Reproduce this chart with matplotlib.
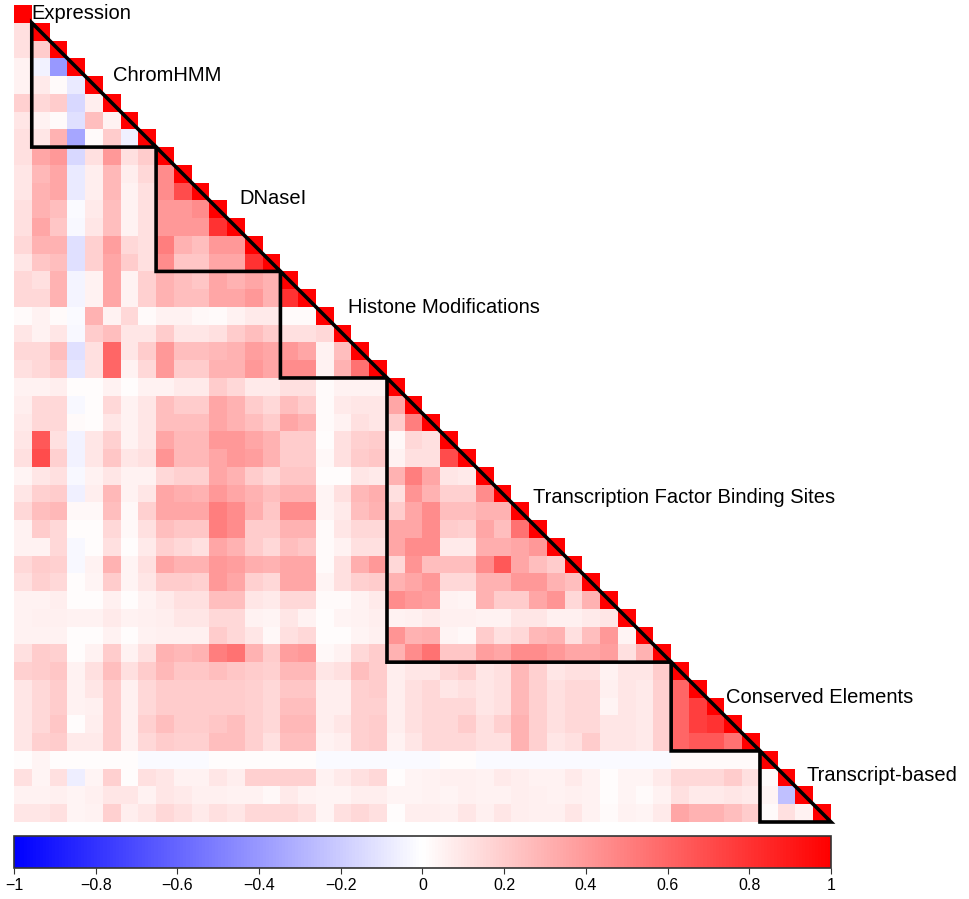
import numpy as np
import matplotlib.pyplot as plt
from matplotlib.colors import LinearSegmentedColormap
from matplotlib.patches import Polygon

plt.rcParams['font.family'] = ['Liberation Sans', 'DejaVu Sans']

groups = ["Expression", "ChromHMM", "DNaseI", "Histone Modifications",
          "Transcription Factor Binding Sites", "Conserved Elements", "Transcript-based"]
group_sizes = [1, 7, 7, 6, 16, 5, 4]

# lower triangle of the correlation matrix, one list per row
rows_expression = [
    [1],
]
rows_chromhmm = [
    [0.12, 1],
    [0.12, 0.2, 1],
    [0.05, -0.05, -0.4, 1],
    [0.05, 0.08, 0.02, -0.08, 1],
    [0.18, 0.15, 0.2, -0.15, 0.07, 1],
    [0.1, 0.05, 0.02, -0.12, 0.25, 0.05, 1],
    [0.12, 0.1, 0.3, -0.35, 0.02, 0.2, -0.06, 1],
]
rows_dnase = [
    [0.12, 0.35, 0.4, -0.15, 0.12, 0.4, 0.12, 0.2, 1],
    [0.1, 0.28, 0.35, -0.08, 0.07, 0.28, 0.07, 0.15, 0.45, 1],
    [0.1, 0.3, 0.35, -0.08, 0.07, 0.28, 0.05, 0.12, 0.45, 0.7, 1],
    [0.12, 0.3, 0.25, -0.02, 0.08, 0.25, 0.05, 0.12, 0.4, 0.4, 0.45, 1],
    [0.12, 0.35, 0.22, -0.03, 0.1, 0.25, 0.05, 0.12, 0.4, 0.4, 0.4, 0.8, 1],
    [0.15, 0.3, 0.3, -0.12, 0.18, 0.38, 0.15, 0.12, 0.5, 0.3, 0.25, 0.4, 0.4, 1],
    [0.1, 0.22, 0.25, -0.12, 0.18, 0.35, 0.2, 0.12, 0.45, 0.22, 0.22, 0.35, 0.35, 0.8, 1],
]
rows_histone = [
    [0.15, 0.12, 0.3, -0.04, 0.05, 0.35, 0.05, 0.18, 0.3, 0.25, 0.22, 0.35, 0.3, 0.35, 0.3, 1],
    [0.15, 0.15, 0.3, -0.04, 0.05, 0.35, 0.05, 0.18, 0.3, 0.25, 0.25, 0.35, 0.35, 0.4, 0.3, 0.8, 1],
    [0.02, 0.05, 0.02, -0.02, 0.3, 0.05, 0.15, 0.02, 0.05, 0.05, 0.03, 0.02, 0.05, 0.08, 0.08, 0.02, 0.02, 1],
    [0.1, 0.05, 0.1, -0.03, 0.2, 0.25, 0.1, 0.1, 0.2, 0.1, 0.1, 0.12, 0.2, 0.25, 0.2, 0.12, 0.12, 0.15, 1],
    [0.15, 0.15, 0.25, -0.12, 0.12, 0.6, 0.1, 0.2, 0.4, 0.25, 0.25, 0.28, 0.3, 0.38, 0.35, 0.4, 0.35, 0.05, 0.25, 1],
    [0.12, 0.15, 0.2, -0.1, 0.12, 0.6, 0.05, 0.15, 0.4, 0.2, 0.2, 0.3, 0.3, 0.4, 0.35, 0.45, 0.45, 0.05, 0.3, 0.55, 1],
]
rows_tfbs = [
    [0.05, 0.05, 0.07, 0.01, 0.01, 0.05, 0.01, 0.05, 0.05, 0.08, 0.08, 0.2,
     0.15, 0.08, 0.08, 0.12, 0.12, 0.02, 0.05, 0.05, 0.05, 1],
    [0.07, 0.15, 0.15, -0.03, 0.01, 0.15, 0.05, 0.1, 0.25, 0.2, 0.2, 0.35,
     0.3, 0.2, 0.15, 0.25, 0.2, 0.02, 0.08, 0.1, 0.1, 0.35, 1],
    [0.08, 0.15, 0.15, 0.02, 0.01, 0.1, 0.05, 0.1, 0.25, 0.25, 0.25, 0.35,
     0.3, 0.25, 0.2, 0.35, 0.3, 0.02, 0.05, 0.12, 0.1, 0.2, 0.5, 1],
    [0.1, 0.65, 0.12, -0.05, 0.1, 0.18, 0.05, 0.1, 0.35, 0.28, 0.28, 0.4,
     0.4, 0.35, 0.3, 0.2, 0.2, 0.01, 0.12, 0.18, 0.2, 0.03, 0.15, 0.12, 1],
    [0.12, 0.7, 0.18, -0.05, 0.1, 0.22, 0.1, 0.12, 0.42, 0.28, 0.28, 0.35,
     0.4, 0.38, 0.3, 0.2, 0.2, 0.03, 0.12, 0.2, 0.22, 0.05, 0.12, 0.12, 0.7, 1],
    [0.04, 0.1, 0.12, -0.03, 0.05, 0.1, 0.05, 0.05, 0.15, 0.18, 0.18, 0.35,
     0.3, 0.2, 0.15, 0.22, 0.22, 0.01, 0.01, 0.1, 0.08, 0.3, 0.5, 0.35,
     0.1, 0.08, 1],
    [0.1, 0.18, 0.2, -0.06, 0.07, 0.28, 0.05, 0.1, 0.35, 0.32, 0.3, 0.4,
     0.35, 0.3, 0.25, 0.3, 0.3, 0.04, 0.12, 0.28, 0.32, 0.12, 0.42, 0.3,
     0.18, 0.18, 0.45, 1],
    [0.15, 0.25, 0.28, 0.03, 0.03, 0.25, 0.03, 0.18, 0.35, 0.35, 0.35, 0.5,
     0.45, 0.32, 0.22, 0.45, 0.45, 0.04, 0.08, 0.25, 0.3, 0.2, 0.35, 0.45,
     0.25, 0.25, 0.3, 0.3, 1],
    [0.05, 0.2, 0.15, 0.01, 0.01, 0.15, 0.03, 0.12, 0.25, 0.22, 0.22, 0.5,
     0.45, 0.2, 0.2, 0.3, 0.3, 0.02, 0.1, 0.15, 0.15, 0.35, 0.35, 0.45,
     0.2, 0.18, 0.35, 0.25, 0.55, 1],
    [0.05, 0.05, 0.15, -0.03, 0.01, 0.12, 0.01, 0.08, 0.18, 0.15, 0.12, 0.35,
     0.3, 0.2, 0.15, 0.25, 0.22, 0.02, 0.05, 0.12, 0.12, 0.35, 0.45, 0.45,
     0.08, 0.08, 0.32, 0.32, 0.35, 0.4, 1],
    [0.15, 0.2, 0.18, -0.03, 0.05, 0.3, 0.04, 0.12, 0.35, 0.3, 0.3, 0.4,
     0.38, 0.32, 0.3, 0.35, 0.35, 0.02, 0.12, 0.32, 0.4, 0.15, 0.42, 0.25,
     0.25, 0.25, 0.45, 0.65, 0.35, 0.25, 0.2, 1],
    [0.12, 0.18, 0.15, 0.01, 0.04, 0.2, 0.04, 0.1, 0.2, 0.2, 0.18, 0.4,
     0.35, 0.18, 0.15, 0.35, 0.35, 0.04, 0.12, 0.18, 0.2, 0.3, 0.35, 0.4,
     0.15, 0.15, 0.3, 0.3, 0.4, 0.4, 0.3, 0.25, 1],
    [0.05, 0.05, 0.07, 0.01, 0.01, 0.06, 0.01, 0.05, 0.08, 0.12, 0.12, 0.25,
     0.25, 0.1, 0.08, 0.15, 0.15, 0.02, 0.02, 0.05, 0.08, 0.45, 0.4, 0.38,
     0.05, 0.04, 0.3, 0.2, 0.2, 0.35, 0.42, 0.15, 0.3, 1],
    [0.05, 0.06, 0.06, 0.05, 0.05, 0.08, 0.05, 0.06, 0.07, 0.1, 0.1, 0.15,
     0.15, 0.05, 0.04, 0.1, 0.05, 0.01, 0.04, 0.05, 0.07, 0.05, 0.06, 0.08,
     0.06, 0.06, 0.05, 0.05, 0.1, 0.1, 0.06, 0.06, 0.08, 0.1, 1],
    [0.05, 0.05, 0.05, 0.01, 0.01, 0.05, 0.01, 0.05, 0.06, 0.06, 0.06, 0.2,
     0.15, 0.1, 0.03, 0.12, 0.15, 0.01, 0.01, 0.04, 0.06, 0.42, 0.3, 0.32,
     0.04, 0.03, 0.2, 0.12, 0.15, 0.28, 0.3, 0.12, 0.25, 0.4, 0.04, 1],
    [0.12, 0.2, 0.18, 0.01, 0.05, 0.2, 0.05, 0.12, 0.3, 0.28, 0.3, 0.5,
     0.55, 0.3, 0.2, 0.38, 0.4, 0.03, 0.05, 0.15, 0.2, 0.3, 0.45, 0.55,
     0.22, 0.22, 0.38, 0.35, 0.45, 0.45, 0.4, 0.35, 0.35, 0.38, 0.12, 0.3, 1],
]
rows_conserved = [
    [0.18, 0.2, 0.22, 0.05, 0.12, 0.25, 0.12, 0.2, 0.28, 0.22, 0.22, 0.25,
     0.22, 0.2, 0.18, 0.28, 0.28, 0.1, 0.12, 0.25, 0.2, 0.07, 0.1, 0.1,
     0.15, 0.18, 0.1, 0.12, 0.28, 0.18, 0.1, 0.12, 0.12, 0.05, 0.1, 0.1, 0.2, 1],
    [0.1, 0.15, 0.2, 0.05, 0.1, 0.2, 0.06, 0.15, 0.2, 0.2, 0.2, 0.2,
     0.2, 0.18, 0.15, 0.22, 0.22, 0.07, 0.07, 0.18, 0.2, 0.07, 0.12, 0.15,
     0.1, 0.12, 0.1, 0.12, 0.28, 0.18, 0.12, 0.15, 0.15, 0.06, 0.1, 0.08, 0.18, 0.6, 1],
    [0.1, 0.15, 0.2, 0.05, 0.06, 0.2, 0.06, 0.15, 0.2, 0.2, 0.2, 0.2,
     0.2, 0.18, 0.15, 0.25, 0.25, 0.07, 0.07, 0.18, 0.18, 0.07, 0.12, 0.15,
     0.15, 0.15, 0.1, 0.12, 0.28, 0.18, 0.12, 0.15, 0.15, 0.04, 0.1, 0.08, 0.18, 0.6, 0.75, 1],
    [0.1, 0.15, 0.22, 0.01, 0.07, 0.2, 0.06, 0.18, 0.25, 0.2, 0.2, 0.22,
     0.25, 0.18, 0.15, 0.28, 0.28, 0.07, 0.1, 0.18, 0.2, 0.07, 0.12, 0.15,
     0.15, 0.2, 0.12, 0.18, 0.3, 0.18, 0.12, 0.15, 0.15, 0.1, 0.1, 0.08, 0.18, 0.6, 0.75, 0.8, 1],
    [0.1, 0.18, 0.2, 0.08, 0.08, 0.2, 0.06, 0.15, 0.2, 0.18, 0.18, 0.25,
     0.25, 0.18, 0.12, 0.25, 0.25, 0.05, 0.07, 0.18, 0.2, 0.05, 0.1, 0.15,
     0.15, 0.15, 0.12, 0.12, 0.3, 0.18, 0.1, 0.12, 0.2, 0.1, 0.1, 0.08, 0.18, 0.6, 0.65, 0.65, 0.55, 1],
]
rows_transcript = [
    [0.01, 0.04, 0.01, 0.01, 0.01, 0.01, 0.01, -0.02, -0.02, -0.02, -0.02, 0.01,
     0.01, 0.01, 0.01, 0.01, 0.01, -0.02, -0.02, -0.02, -0.02, -0.02, -0.02, -0.02,
     0.01, 0.01, -0.02, -0.02, -0.02, -0.02, -0.02, -0.02, -0.02, -0.02, -0.02,
     -0.02, -0.02, 0.02, 0.02, 0.02, 0.02, 0.02, 1],
    [0.12, 0.04, 0.12, -0.07, 0.04, 0.18, 0.01, 0.12, 0.1, 0.05, 0.05, 0.1,
     0.07, 0.18, 0.18, 0.18, 0.18, 0.05, 0.08, 0.12, 0.15, 0.01, 0.04, 0.05,
     0.06, 0.06, 0.05, 0.08, 0.07, 0.05, 0.05, 0.08, 0.05, 0.01, 0.04,
     0.04, 0.08, 0.15, 0.15, 0.15, 0.2, 0.12, 0.02, 1],
    [0.05, 0.05, 0.06, 0.04, 0.06, 0.1, 0.1, 0.05, 0.1, 0.08, 0.06, 0.06,
     0.05, 0.05, 0.03, 0.08, 0.05, 0.04, 0.04, 0.07, 0.07, 0.04, 0.04, 0.05,
     0.04, 0.06, 0.05, 0.05, 0.07, 0.06, 0.05, 0.06, 0.05, 0.01, 0.04,
     0.02, 0.05, 0.12, 0.08, 0.08, 0.1, 0.08, 0.04, -0.25, 1],
    [0.1, 0.1, 0.12, 0.04, 0.05, 0.18, 0.07, 0.1, 0.15, 0.12, 0.08, 0.12,
     0.1, 0.15, 0.15, 0.15, 0.12, 0.04, 0.12, 0.15, 0.12, 0.01, 0.07, 0.07,
     0.06, 0.1, 0.06, 0.1, 0.07, 0.06, 0.06, 0.1, 0.05, 0.02, 0.05,
     0.04, 0.08, 0.35, 0.3, 0.3, 0.25, 0.2, 0.02, 0.12, 0.05, 1],
]

cbar_ticks = [-1, -0.8, -0.6, -0.4, -0.2, 0, 0.2, 0.4, 0.6, 0.8, 1]
cbar_labels = ["\u22121", "\u22120.8", "\u22120.6", "\u22120.4", "\u22120.2", "0",
               "0.2", "0.4", "0.6", "0.8", "1"]

rows = (rows_expression + rows_chromhmm + rows_dnase + rows_histone
        + rows_tfbs + rows_conserved + rows_transcript)
n = len(rows)
corr = np.full((n, n), np.nan)
for i, r in enumerate(rows):
    assert len(r) == i + 1, (i, len(r))
    corr[i, :len(r)] = r

cmap = LinearSegmentedColormap.from_list("blue_white_red", ["#0000FF", "#FFFFFF", "#FF0000"])

W, H = 970, 899
fig = plt.figure(figsize=(W / 100, H / 100), dpi=100)
ax = fig.add_axes([14 / W, 1 - 822 / H, 817 / W, 817 / H])
mesh = ax.pcolormesh(np.arange(n + 1), np.arange(n + 1), np.ma.masked_invalid(corr),
                     cmap=cmap, vmin=-1, vmax=1)
ax.set_xlim(0, n)
ax.set_ylim(n, 0)
ax.axis('off')

# triangles around each group of features + group names
label_xy = [(1.0, 0.5), (5.55, 3.95), (12.7, 10.9), (18.8, 17.05),
            (29.2, 27.75), (40.1, 39.0), (44.6, 43.4)]
edges = np.cumsum([0] + group_sizes)
for name, a, b, (tx, ty) in zip(groups, edges[:-1], edges[1:], label_xy):
    if b - a > 1:
        ax.add_patch(Polygon([(a, a), (a, b), (b, b)], closed=True, fill=False,
                             lw=2.6, ec='black', joinstyle='miter', clip_on=False, zorder=3))
    ax.text(tx, ty, name, ha='left', va='center', fontsize=14.5, color='black', zorder=4)

cax = fig.add_axes([14 / W, 1 - 868 / H, 817 / W, 32 / H])
cb = fig.colorbar(mesh, cax=cax, orientation='horizontal')
cb.set_ticks(cbar_ticks)
cb.set_ticklabels(cbar_labels)
cb.outline.set_edgecolor('#333333')
cb.outline.set_linewidth(1.2)
cax.tick_params(axis='x', length=4, width=0.8, pad=3, labelsize=11.5, color='#333333')

fig.savefig('out.png', dpi=100)
